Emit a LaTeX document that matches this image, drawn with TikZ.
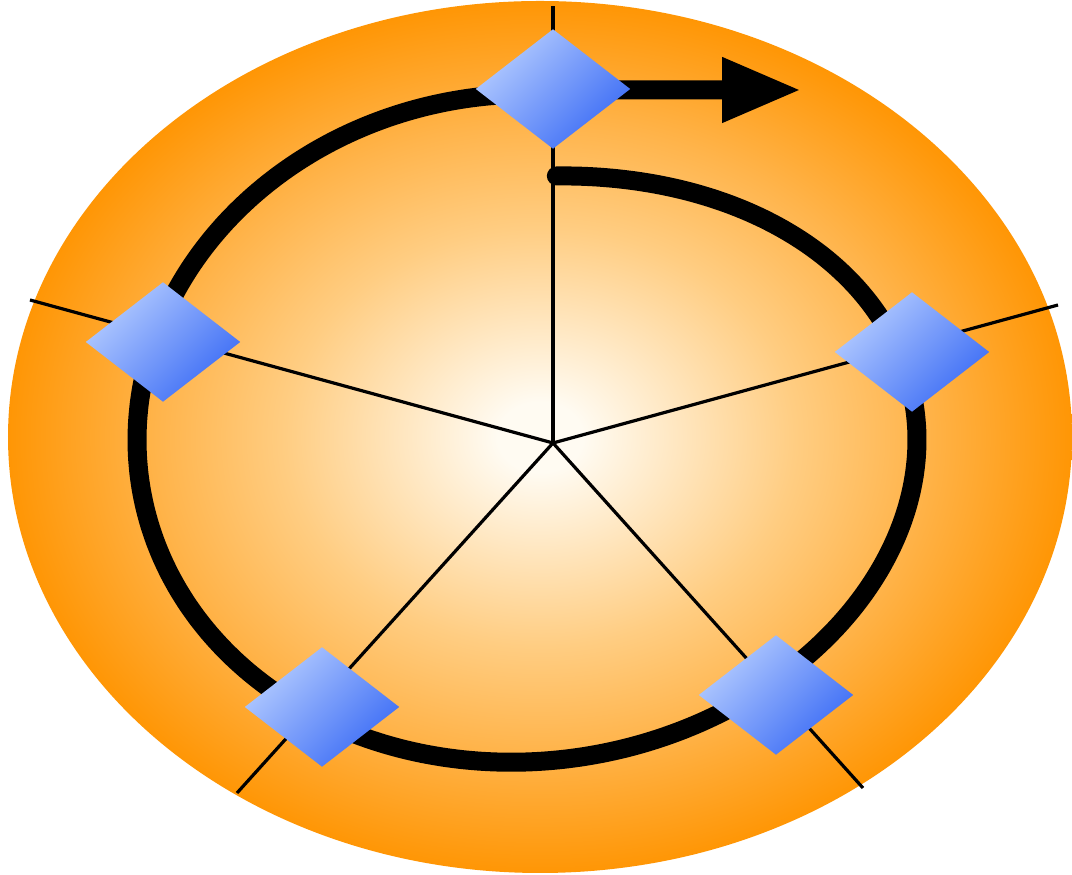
\documentclass[tikz,border=0pt]{standalone}
\usetikzlibrary{shapes.geometric,arrows.meta}
\definecolor{glowC}{RGB}{255,251,242}
\definecolor{glowM}{RGB}{255,205,130}
\definecolor{glowK}{RGB}{255,180,75}
\definecolor{glowE}{RGB}{255,150,5}
\definecolor{gemL}{RGB}{180,204,255}
\definecolor{gemD}{RGB}{60,108,245}
\pgfdeclareradialshading{glow}{\pgfpoint{0bp}{0bp}}{color(0bp)=(glowC); color(2bp)=(glowC); color(12bp)=(glowM); color(18bp)=(glowK); color(25bp)=(glowE); color(50bp)=(glowE)}
\tikzset{
  gem/.style={diamond,minimum width=15.5mm,minimum height=12mm,inner sep=0pt,
    shade,top color=gemL,bottom color=gemD,shading angle=45},
  spoke/.style={line width=0.32mm},
  ring/.style={line width=1.9mm,line cap=round}
}
\begin{document}
\begin{tikzpicture}[x=0.1mm,y=-0.1mm,line join=round]
  \useasboundingbox (0,0) rectangle (1072,875);
  \shade[shading=glow] (540,437) ellipse [x radius=532,y radius=436];

  % spokes
  \coordinate (c) at (553,443);
  \coordinate (eT) at (553,6);
  \coordinate (eL) at (30,300);
  \coordinate (eR) at (1058,305);
  \coordinate (eBL) at (237,793);
  \coordinate (eBR) at (863,788);
  \foreach \e in {eT,eL,eR,eBL,eBR}
    \draw[spoke] (c) -- (\e);

  % ring with arrow
  \coordinate (tip) at (802,90);
  \draw[ring,-{Triangle[length=8mm,width=6mm]}]
    plot[smooth,domain=0.012:1,samples=120]
      ({527+390*sin(360*\x)},{440-(263+153*\x-70*\x*\x)*cos(360*\x)})
    -- (580,90) -- (tip);

  \foreach \n/\p in {gT/{(553,89)}, gL/{(163,342)}, gR/{(912,352)}, gBL/{(322,707)}, gBR/{(776,695)}}
    \node[gem] (\n) at \p {};
\end{tikzpicture}
\end{document}
